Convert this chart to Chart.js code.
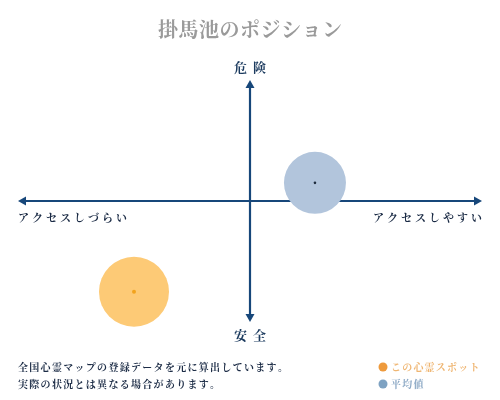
<!DOCTYPE html>
<html>
<head>
<meta charset="utf-8">
<script src="https://cdn.jsdelivr.net/npm/chart.js@4"></script>
<style>
  html, body { margin: 0; padding: 0; background: #fff; }
  #wrap { width: 500px; height: 400px; }
</style>
</head>
<body>
<div id="wrap"><canvas id="chart" width="500" height="400"></canvas></div>
<script>
const titleText = "掛馬池のポジション";
const axisLabels = { top: "危険", bottom: "安全", left: "アクセスしづらい", right: "アクセスしやすい" };
const notes = ["全国心霊マップの登録データを元に算出しています。", "実際の状況とは異なる場合があります。"];

// Series: this spot and the average
const seriesNames = ["この心霊スポット", "平均値"];
const accessValues = [-5.0, 2.8];   // x: hard (-) to easy (+)
const dangerValues = [-7.5, 1.5];   // y: safe (-) to dangerous (+)
const bubbleSizes = [35, 31];

const fillColors = ["#fdca76", "#b2c5dc"];
const dotColors = ["#f2a31e", "#1d2b3c"];
const legendColors = ["#ee9a3c", "#7ea2c2"];
const legendTextColors = ["#efb673", "#8eaac6"];
const navy = "#17477a";
const fontFam = '"Noto Serif CJK JP", "Noto Sans CJK JP", serif';

const drawSpaced = (ctx, text, x, y, spacing, align) => {
  // draw char by char so letter spacing works everywhere
  let total = 0;
  const widths = [...text].map(ch => ctx.measureText(ch).width);
  widths.forEach(w => total += w);
  total += spacing * (widths.length - 1);
  let start = x;
  if (align === "center") start = x - total / 2;
  if (align === "right") start = x - total;
  ctx.textAlign = "left";
  [...text].forEach((ch, i) => {
    ctx.fillText(ch, start, y);
    start += widths[i] + spacing;
  });
};

const arrow = (ctx, x1, y1, x2, y2) => {
  const ang = Math.atan2(y2 - y1, x2 - x1);
  ctx.beginPath();
  ctx.moveTo(x1, y1);
  ctx.lineTo(x2 - 4 * Math.cos(ang), y2 - 4 * Math.sin(ang));
  ctx.stroke();
  ctx.beginPath();
  ctx.moveTo(x2, y2);
  ctx.lineTo(x2 - 8 * Math.cos(ang) + 4.5 * Math.sin(ang), y2 - 8 * Math.sin(ang) - 4.5 * Math.cos(ang));
  ctx.lineTo(x2 - 8 * Math.cos(ang) - 4.5 * Math.sin(ang), y2 - 8 * Math.sin(ang) + 4.5 * Math.cos(ang));
  ctx.closePath();
  ctx.fill();
};

const decorations = {
  id: "decorations",
  beforeDatasetsDraw(chart) {
    const { ctx, chartArea: a, scales } = chart;
    const cx = scales.x.getPixelForValue(0);
    const cy = scales.y.getPixelForValue(0);
    ctx.save();
    ctx.strokeStyle = navy;
    ctx.fillStyle = navy;
    ctx.lineWidth = 2.2;
    arrow(ctx, cx, cy, a.left, cy);
    arrow(ctx, cx, cy, a.right, cy);
    arrow(ctx, cx, cy, cx, a.top);
    arrow(ctx, cx, cy, cx, a.bottom);
    ctx.restore();
  },
  afterDatasetsDraw(chart) {
    const { ctx, chartArea: a, scales } = chart;
    const cx = scales.x.getPixelForValue(0);
    const cy = scales.y.getPixelForValue(0);
    ctx.save();
    // centre dots
    chart.data.datasets.forEach((ds, i) => {
      const el = chart.getDatasetMeta(i).data[0];
      ctx.fillStyle = dotColors[i];
      ctx.beginPath();
      ctx.arc(el.x, el.y, i === 0 ? 2 : 1.3, 0, Math.PI * 2);
      ctx.fill();
    });

    ctx.textBaseline = "middle";
    // title
    ctx.fillStyle = "#9a9a9a";
    ctx.font = "bold 20px " + fontFam;
    drawSpaced(ctx, titleText, 250, 29, 0.5, "center");

    // axis labels
    ctx.fillStyle = "#1b3a5e";
    ctx.font = "bold 13px " + fontFam;
    drawSpaced(ctx, axisLabels.top, cx, 67, 6, "center");
    drawSpaced(ctx, axisLabels.bottom, cx, 335, 6, "center");
    ctx.font = "bold 11px " + fontFam;
    ctx.fillStyle = "#1b2b45";
    drawSpaced(ctx, axisLabels.left, a.left, cy + 17, 3, "left");
    drawSpaced(ctx, axisLabels.right, a.right, cy + 17, 3, "right");

    // notes
    ctx.font = "bold 10px " + fontFam;
    notes.forEach((t, i) => drawSpaced(ctx, t, 18, 367 + i * 17, 1.3, "left"));

    // legend
    seriesNames.forEach((name, i) => {
      const y = 367 + i * 17;
      ctx.fillStyle = legendColors[i];
      ctx.beginPath();
      ctx.arc(383, y, 4.5, 0, Math.PI * 2);
      ctx.fill();
      ctx.fillStyle = legendTextColors[i];
      ctx.font = "bold 10px " + fontFam;
      drawSpaced(ctx, name, 391, y, 1.2, "left");
    });
    ctx.restore();
  }
};

new Chart(document.getElementById("chart"), {
  type: "bubble",
  data: {
    datasets: seriesNames.map((name, i) => ({
      label: name,
      data: [{ x: accessValues[i], y: dangerValues[i], r: bubbleSizes[i] }],
      backgroundColor: fillColors[i],
      borderWidth: 0,
      hoverRadius: 0,
      clip: false
    }))
  },
  options: {
    responsive: false,
    animation: false,
    layout: { autoPadding: false, padding: { left: 18, right: 18, top: 80, bottom: 78 } },
    scales: {
      x: { min: -10, max: 10, display: false },
      y: { min: -10, max: 10, display: false }
    },
    plugins: { legend: { display: false }, tooltip: { enabled: false } }
  },
  plugins: [decorations]
});
</script>
</body>
</html>
